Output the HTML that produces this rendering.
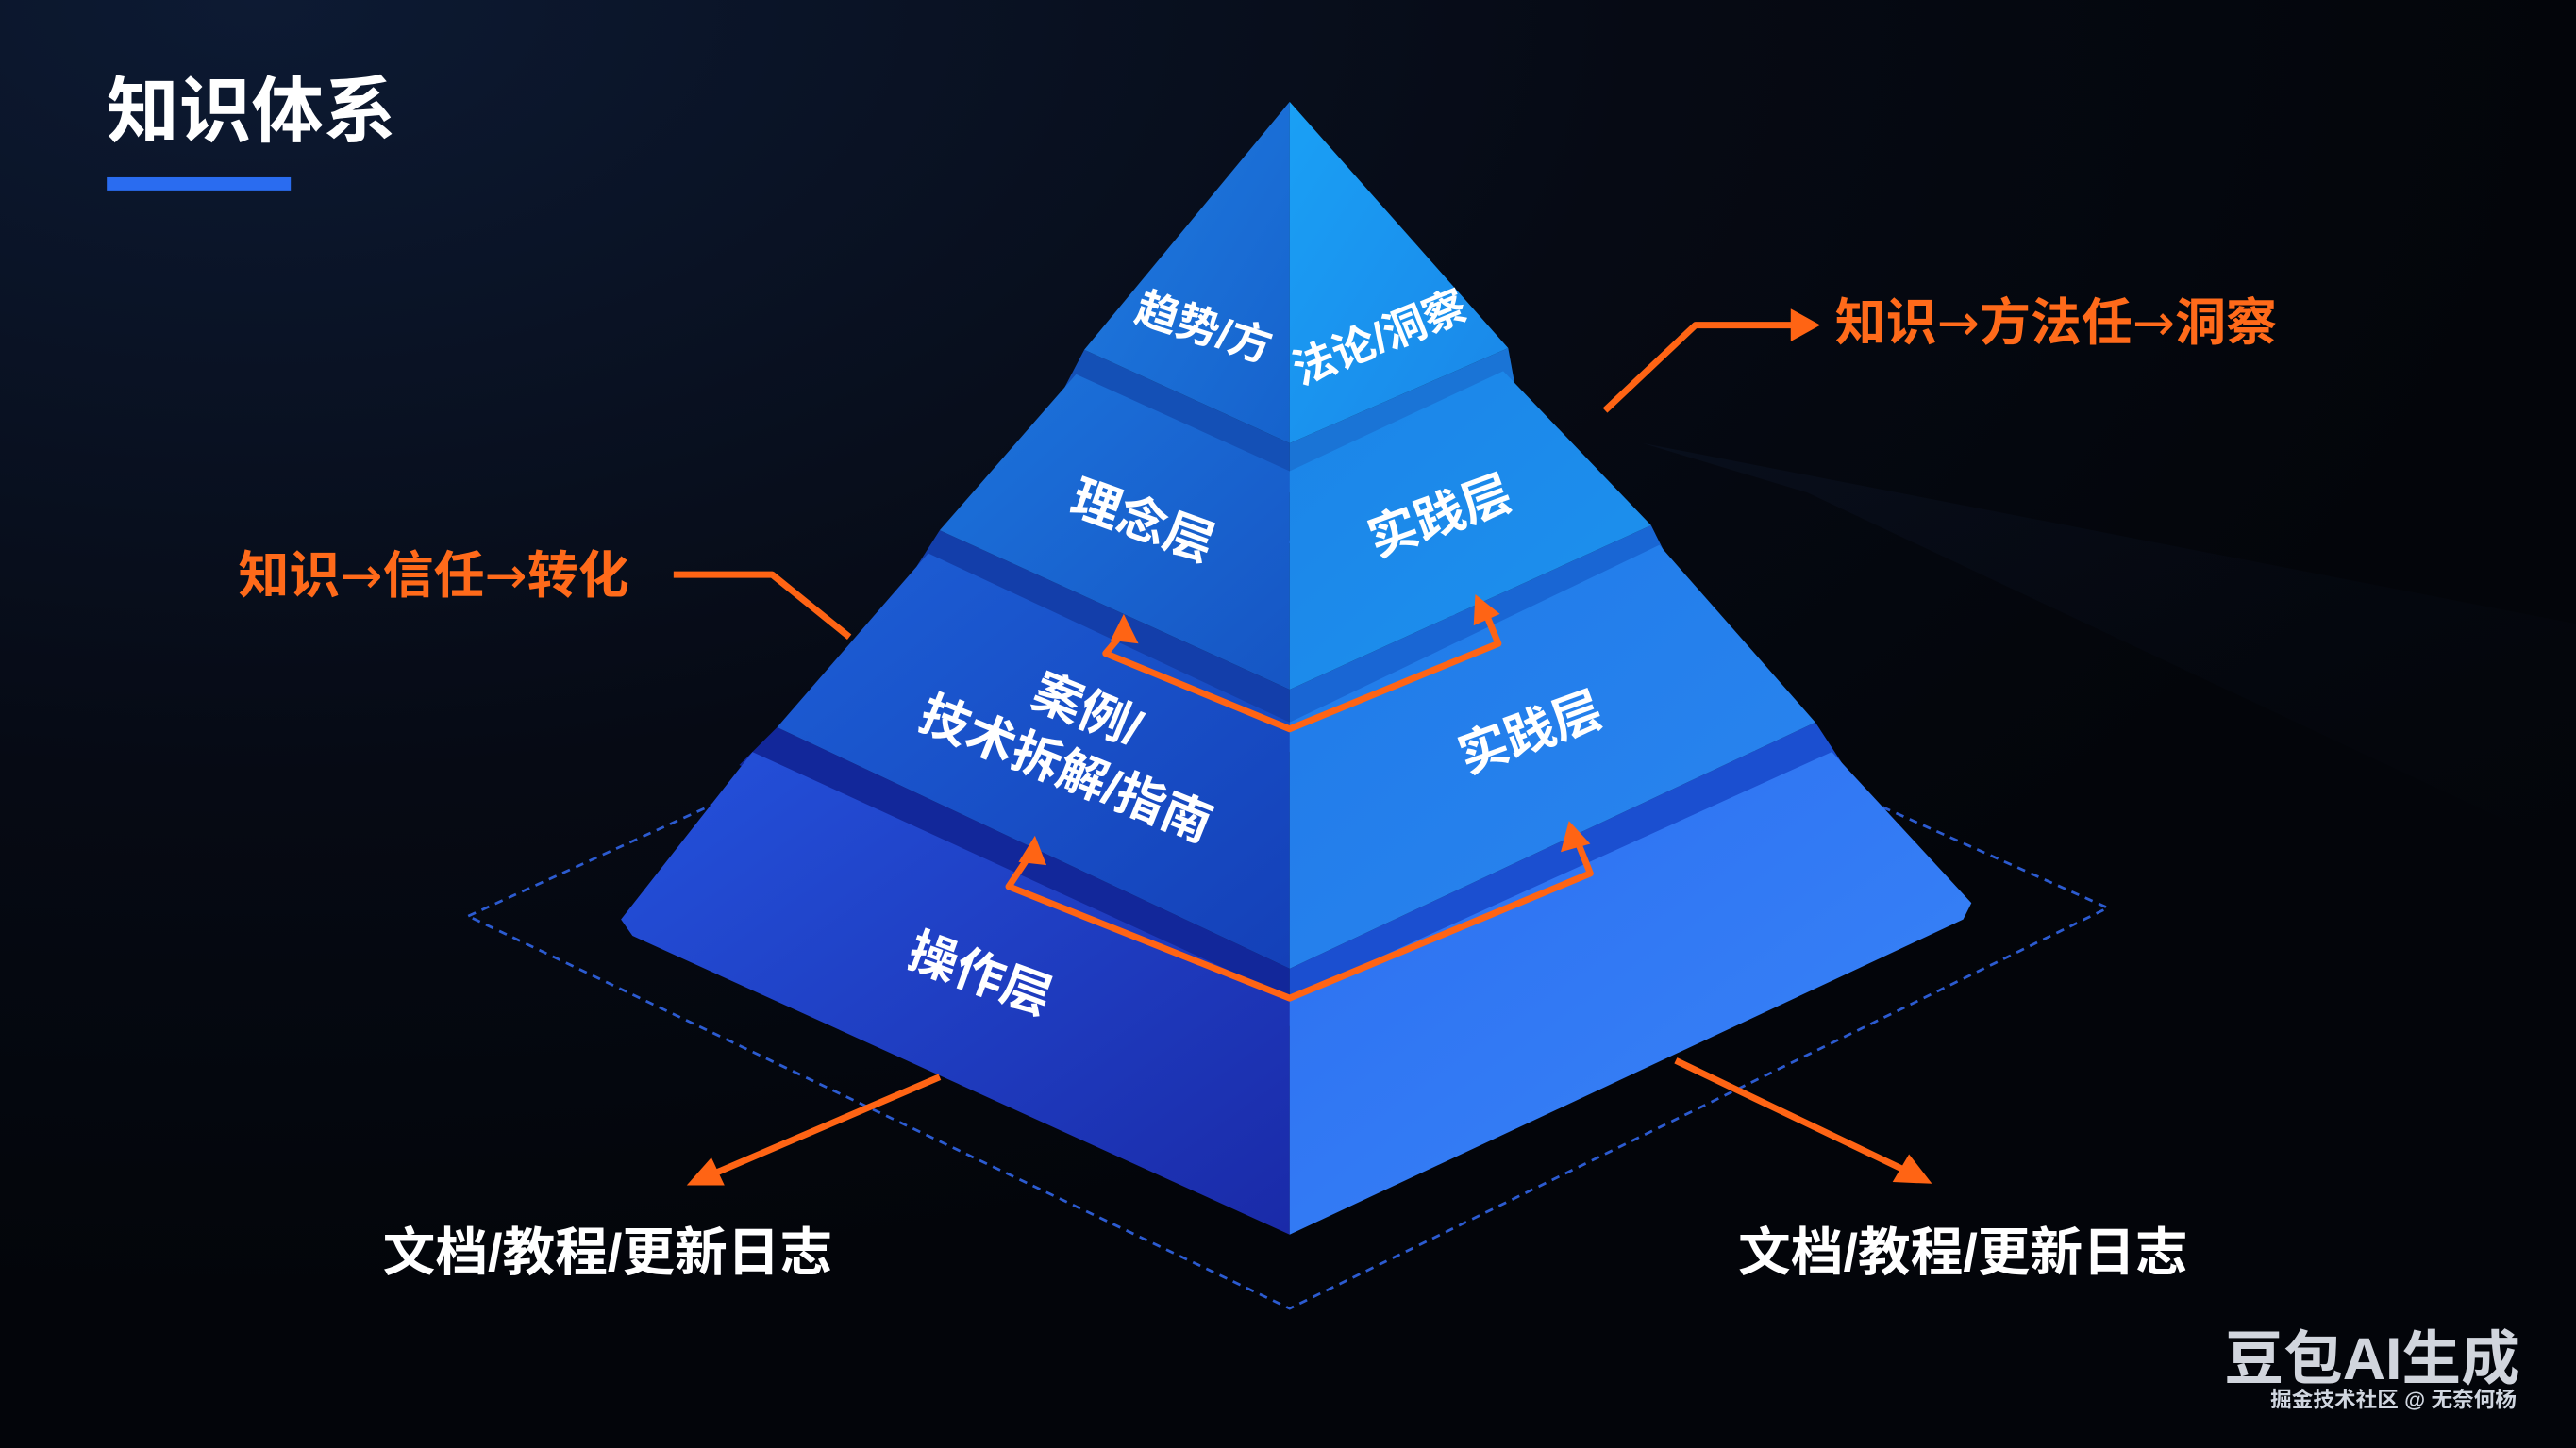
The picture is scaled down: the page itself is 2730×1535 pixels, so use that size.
<!DOCTYPE html>
<html><head><meta charset="utf-8"><style>
html,body{margin:0;padding:0;background:#04060c;}
svg{display:block}
text{font-family:"Liberation Sans","Noto Sans CJK SC",sans-serif;font-weight:bold}
.ar{font-family:"DejaVu Sans",sans-serif;font-weight:normal}
</style></head><body>
<svg width="2730" height="1535" viewBox="0 0 1568 882" preserveAspectRatio="none" xmlns="http://www.w3.org/2000/svg">
<defs>
<radialGradient id="bg" cx="0.1" cy="0" r="0.9">
<stop offset="0" stop-color="#0d1a33"/><stop offset="0.6" stop-color="#060a14"/><stop offset="1" stop-color="#03050a"/>
</radialGradient>
<linearGradient id="L1" x1="0" y1="0" x2="1" y2="1"><stop offset="0" stop-color="#1f7be0"/><stop offset="1" stop-color="#1662cc"/></linearGradient>
<linearGradient id="R1" x1="0" y1="0" x2="1" y2="1"><stop offset="0" stop-color="#1aa0f5"/><stop offset="1" stop-color="#1a86e8"/></linearGradient>
<linearGradient id="L2" x1="0" y1="0" x2="1" y2="1"><stop offset="0" stop-color="#1c74dc"/><stop offset="1" stop-color="#1655c4"/></linearGradient>
<linearGradient id="R2" x1="0" y1="0" x2="1" y2="1"><stop offset="0" stop-color="#1b84e8"/><stop offset="1" stop-color="#1d92ee"/></linearGradient>
<linearGradient id="L3" x1="0" y1="0" x2="1" y2="1"><stop offset="0" stop-color="#1d5fd6"/><stop offset="1" stop-color="#1440b8"/></linearGradient>
<linearGradient id="R3" x1="0" y1="0" x2="1" y2="1"><stop offset="0" stop-color="#1f7ae8"/><stop offset="1" stop-color="#2b86f0"/></linearGradient>
<linearGradient id="L4" x1="0" y1="0" x2="1" y2="1"><stop offset="0" stop-color="#2452dc"/><stop offset="1" stop-color="#1a2aa8"/></linearGradient>
<linearGradient id="R4" x1="0" y1="0" x2="1" y2="1"><stop offset="0" stop-color="#2b6ef0"/><stop offset="1" stop-color="#3a86f8"/></linearGradient>
<linearGradient id="sh" x1="0" y1="0" x2="1" y2="1"><stop offset="0" stop-color="#0f1a30" stop-opacity="0.7"/><stop offset="1" stop-color="#0a1020" stop-opacity="0"/></linearGradient>
</defs>
<rect width="1568" height="882" fill="url(#bg)"/>
<polygon points="1000,270 1568,380 1568,520 1100,300" fill="url(#sh)" opacity="0.5"/>

<text x="65" y="83" font-size="44" fill="#fff">知识体系</text>
<rect x="65" y="108" width="112" height="8" fill="#2a6cf0"/>

<polygon points="285,558 785,330 1283,553 785,797" fill="none" stroke="#2c5bd0" stroke-width="1.6" stroke-dasharray="5,4"/>

<!-- tier 4 -->
<polygon points="473,443 785,590 785,625 450,466" fill="#12279a"/>
<polygon points="785,590 1105,440 1122,466 785,625" fill="#1b4fd0"/>
<polygon points="458,458 785,608 785,752 385,570 378,560" fill="url(#L4)"/>
<polygon points="785,608 1115,458 1200,550 1195,560 785,752" fill="url(#R4)"/>
<!-- tier 3 -->
<polygon points="572,323 785,420 785,458 558,345" fill="#133eaa"/>
<polygon points="785,420 1005,320 1016,342 785,458" fill="#1966d4"/>
<polygon points="565,337 785,440 785,590 473,443" fill="url(#L3)"/>
<polygon points="785,440 1010,332 1105,440 785,590" fill="url(#R3)"/>
<!-- tier 2 -->
<polygon points="660,213 785,270 785,300 648,236" fill="#1450b6"/>
<polygon points="785,270 918,212 922,234 785,300" fill="#1a74d6"/>
<polygon points="655,228 785,287 785,420 572,323" fill="url(#L2)"/>
<polygon points="785,287 915,226 1005,320 785,420" fill="url(#R2)"/>
<!-- tier 1 -->
<polygon points="785,62 785,270 660,213" fill="url(#L1)"/>
<polygon points="785,62 918,212 785,270" fill="url(#R1)"/>

<g fill="#fff">
<text transform="translate(730,208) rotate(18)" font-size="26" text-anchor="middle">趋势/方</text>
<text transform="translate(843,214) rotate(-22)" font-size="26" text-anchor="middle">法论/洞察</text>
<text transform="translate(692,327) rotate(20)" font-size="30" text-anchor="middle">理念层</text>
<text transform="translate(880,324) rotate(-20)" font-size="30" text-anchor="middle">实践层</text>
<text transform="translate(658,442) rotate(22)" font-size="30" text-anchor="middle">案例/</text>
<text transform="translate(645,478) rotate(22)" font-size="30" text-anchor="middle">技术拆解/指南</text>
<text transform="translate(935,456) rotate(-20)" font-size="30" text-anchor="middle">实践层</text>
<text transform="translate(593,603) rotate(20)" font-size="30" text-anchor="middle">操作层</text>
</g>

<g stroke="#ff6414" stroke-width="4" fill="none" stroke-linejoin="round">
<polyline points="684,385 673,398 785,444 912,392 905,375"/>
<polyline points="626,522 614,540 785,608 968,532 960,512"/>
<polyline points="410,350 470,350 517,388"/>
<polyline points="977,250 1032,198 1092,198"/>
<line x1="572" y1="656" x2="432" y2="716"/>
<line x1="1020" y1="646" x2="1162" y2="714"/>
</g>
<g fill="#ff6414">
<polygon points="684,374 693,392 676,390"/>
<polygon points="898,362 913,374 897,381"/>
<polygon points="630,509 637,527 620,525"/>
<polygon points="955,500 968,514 950,519"/>
<polygon points="1108,198 1090,188 1090,208"/>
<polygon points="418,722 433,705 441,722"/>
<polygon points="1176,721 1152,720 1162,703"/>
</g>

<text x="145" y="361" font-size="31" fill="#ff6a1a">知识<tspan class="ar">→</tspan>信任<tspan class="ar">→</tspan>转化</text>
<text x="1117" y="207" font-size="31" fill="#ff6a1a">知识<tspan class="ar">→</tspan>方法任<tspan class="ar">→</tspan>洞察</text>
<text x="233" y="774" font-size="32" fill="#fff">文档/教程/更新日志</text>
<text x="1058" y="774" font-size="32" fill="#fff">文档/教程/更新日志</text>

<text x="1354" y="840" font-size="36" fill="#e8ecf4" opacity="0.9">豆包AI生成</text>
<text x="1382" y="857" font-size="13" fill="#d0d6e0" font-weight="normal">掘金技术社区 @ 无奈何杨</text>
</svg>
</body></html>
